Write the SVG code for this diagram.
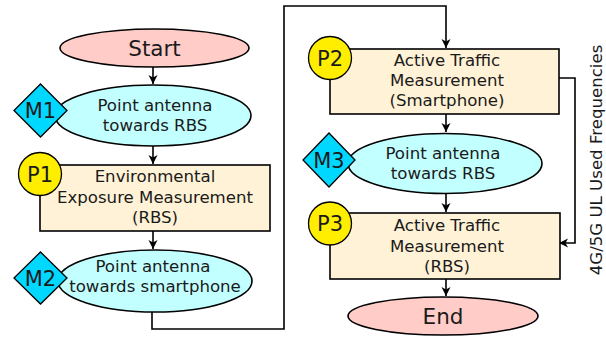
<svg xmlns="http://www.w3.org/2000/svg" width="606" height="337" viewBox="0 0 606 337">
<defs>
<style>
text{font-family:"DejaVu Sans","Liberation Sans",sans-serif;fill:#1a1a1a;text-anchor:middle}
.t{font-size:16.6px}
.big{font-size:21.5px}
.lbl{font-size:21px}
.term{fill:#ffccc8;stroke:#000;stroke-width:1.6}
.act{fill:#c2ffff;stroke:#000;stroke-width:1.6}
.box{fill:#fff2d6;stroke:#000;stroke-width:1.6}
.dia{fill:#00d8ff;stroke:#000;stroke-width:1.3}
.cir{fill:#ffee00;stroke:#000;stroke-width:1.3}
.c{fill:none;stroke:#000;stroke-width:1.6}
</style>
<marker id="ah" viewBox="-10 -5 11 10" markerWidth="11" markerHeight="10" refX="0" refY="0" orient="auto" markerUnits="userSpaceOnUse">
<path d="M0,0 L-9,-4.5 L-6.5,0 L-9,4.5 z" fill="#000"/>
</marker>
</defs>
<g id="connectors">
<path class="c" d="M153,67 V84" marker-end="url(#ah)"/>
<path class="c" d="M153,146 V164" marker-end="url(#ah)"/>
<path class="c" d="M153,231 V249" marker-end="url(#ah)"/>
<path class="c" d="M152,312 V329 H284 V6 H446 V48" marker-end="url(#ah)"/>
<path class="c" d="M446,114 V132" marker-end="url(#ah)"/>
<path class="c" d="M446,193 V212" marker-end="url(#ah)"/>
<path class="c" d="M446,279 V296" marker-end="url(#ah)"/>
<path class="c" d="M559,78 H575 V243 H559" marker-end="url(#ah)"/>
</g>
<g id="start">
<ellipse class="term" cx="154.5" cy="48" rx="94.5" ry="19"/>
<text class="big" x="154.5" y="56">Start</text>
</g>
<g id="m1">
<ellipse class="act" cx="153" cy="115.5" rx="98" ry="30.5"/>
<text class="t" x="155" y="111">Point antenna</text>
<text class="t" x="155" y="131">towards RBS</text>
<path class="dia" d="M40.5,84 L67,110.5 L40.5,137 L14,110.5 z"/>
<text class="lbl" x="40.5" y="118">M1</text>
</g>
<g id="p1">
<rect class="box" x="40" y="165" width="230" height="66"/>
<text class="t" x="155" y="182">Environmental</text>
<text class="t" x="155" y="203">Exposure Measurement</text>
<text class="t" x="155" y="223">(RBS)</text>
<circle class="cir" cx="40" cy="174" r="21.5"/>
<text class="lbl" x="40" y="181.5">P1</text>
</g>
<g id="m2">
<ellipse class="act" cx="155" cy="281" rx="97" ry="31"/>
<text class="t" x="153" y="272">Point antenna</text>
<text class="t" x="155" y="292">towards smartphone</text>
<path class="dia" d="M40.5,252 L67,278 L40.5,304 L14,278 z"/>
<text class="lbl" x="40.5" y="285.5">M2</text>
</g>
<g id="p2">
<rect class="box" x="330" y="49" width="229" height="65"/>
<text class="t" x="447" y="65.5">Active Traffic</text>
<text class="t" x="447" y="85.5">Measurement</text>
<text class="t" x="447" y="105.5">(Smartphone)</text>
<circle class="cir" cx="330" cy="58" r="21.5"/>
<text class="lbl" x="330" y="65.5">P2</text>
</g>
<g id="m3">
<ellipse class="act" cx="445" cy="163.5" rx="97" ry="30"/>
<text class="t" x="443" y="158.5">Point antenna</text>
<text class="t" x="443" y="178.5">towards RBS</text>
<path class="dia" d="M329,133 L355,160 L329,187 L303,160 z"/>
<text class="lbl" x="329" y="167.5">M3</text>
</g>
<g id="p3">
<rect class="box" x="330" y="213" width="230" height="66"/>
<text class="t" x="447" y="231">Active Traffic</text>
<text class="t" x="447" y="252">Measurement</text>
<text class="t" x="447" y="272">(RBS)</text>
<circle class="cir" cx="330" cy="223.5" r="21.5"/>
<text class="lbl" x="330" y="231">P3</text>
</g>
<g id="end">
<ellipse class="term" cx="443" cy="316" rx="95" ry="19"/>
<text class="big" x="443" y="324">End</text>
</g>
<g id="side-label">
<text class="t" transform="translate(602,160) rotate(-90)" x="0" y="0">4G/5G UL Used Frequencies</text>
</g>
</svg>
